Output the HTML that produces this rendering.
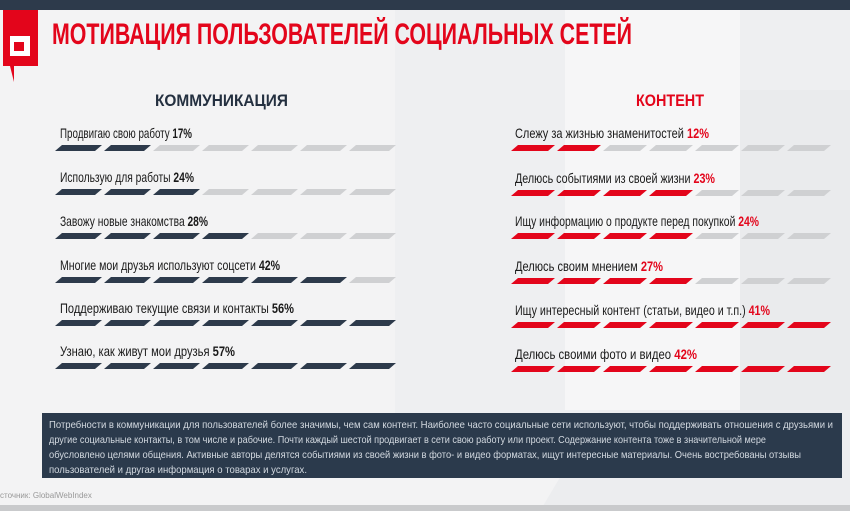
<!DOCTYPE html>
<html><head><meta charset="utf-8"><style>
body{margin:0;width:850px;height:511px;overflow:hidden;background:#f3f3f4;}
svg{display:block}
text{font-family:"Liberation Sans Narrow","Liberation Sans",sans-serif;}
</style></head><body>
<svg width="850" height="511" viewBox="0 0 850 511" xmlns="http://www.w3.org/2000/svg">
<rect width="850" height="511" fill="#f3f3f4"/>
<rect x="395" y="10" width="460" height="460" fill="#eeeff1"/>
<rect x="565" y="10" width="175" height="400" fill="#f6f6f7"/>
<rect x="740" y="90" width="110" height="320" fill="#eaebed"/>
<polygon points="600,410 850,410 850,511 540,511" fill="#ecedef"/>
<rect x="0" y="0" width="850" height="10" fill="#2d3a4b"/>
<polygon points="3,10 38,10 38,66 14,66 14,82 10,66 3,66" fill="#e3051b"/>
<rect x="10" y="36" width="20" height="20" fill="#fff"/>
<rect x="14" y="42" width="10" height="9" fill="#e3051b"/>
<text x="52" y="44" font-size="30" fill="#e3051b" font-weight="bold" textLength="580" lengthAdjust="spacingAndGlyphs">МОТИВАЦИЯ ПОЛЬЗОВАТЕЛЕЙ СОЦИАЛЬНЫХ СЕТЕЙ</text>
<text x="155" y="106" font-size="17" fill="#243040" font-weight="bold" textLength="133" lengthAdjust="spacingAndGlyphs" style="font-family:'Liberation Sans',sans-serif">КОММУНИКАЦИЯ</text>
<text x="636" y="106" font-size="17" fill="#e3051b" font-weight="bold" textLength="68" lengthAdjust="spacingAndGlyphs" style="font-family:'Liberation Sans',sans-serif">КОНТЕНТ</text>
<g id="L" font-size="14" fill="#1a1a1a"></g>
<g id="R" font-size="14" fill="#1a1a1a"></g>
<rect x="42" y="413" width="800" height="65" fill="#2b3a4c"/>
<g font-size="10.5" fill="#d3d9e0">
<text x="49" y="428" textLength="784" lengthAdjust="spacingAndGlyphs">Потребности в коммуникации для пользователей более значимы, чем сам контент. Наиболее часто социальные сети используют, чтобы поддерживать отношения с друзьями и</text>
<text x="49" y="443" textLength="717" lengthAdjust="spacingAndGlyphs">другие социальные контакты, в том числе и рабочие.  Почти каждый шестой продвигает в сети свою работу или проект. Содержание контента тоже в значительной мере</text>
<text x="49" y="458" textLength="752" lengthAdjust="spacingAndGlyphs">обусловлено целями общения. Активные авторы делятся событиями из своей жизни в фото- и видео форматах, ищут интересные материалы. Очень востребованы отзывы</text>
<text x="49" y="473" textLength="258" lengthAdjust="spacingAndGlyphs">пользователей и другая информация о товарах и услугах.</text>
</g>
<text x="0" y="498" font-size="8" fill="#999">сточник: GlobalWebIndex</text>
<rect x="0" y="505" width="850" height="6" fill="#c9cacc"/>
</svg>
<script>
var ns="http://www.w3.org/2000/svg",svg=document.querySelector('svg');
function add(tag,attrs,txt,parent){var e=document.createElementNS(ns,tag);for(var k in attrs)e.setAttribute(k,attrs[k]);if(txt!=null)e.textContent=txt;(parent||svg).appendChild(e);return e;}
var L=[["Продвигаю свою работу ","17%",2,138,110],["Использую для работы ","24%",3,182,112],["Завожу новые знакомства ","28%",4,226,126],["Многие мои друзья используют соцсети ","42%",6,270,198],["Поддерживаю текущие связи и контакты ","56%",7,313,212],["Узнаю, как живут мои друзья ","57%",7,356,153]];
var R=[["Слежу за жизнью знаменитостей ","12%",2,138,172],["Делюсь событиями из своей жизни  ","23%",4,183,178],["Ищу информацию о продукте перед покупкой ","24%",4,226,222],["Делюсь своим мнением ","27%",4,271,126],["Ищу интересный контент (статьи, видео и т.п.) ","41%",7,315,233],["Делюсь своими фото и видео ","42%",7,359,160]];
var g1=document.getElementById('L'),g2=document.getElementById('R');
L.forEach(function(d){var t=add('text',{x:60,y:d[3],textLength:d[4]+22,lengthAdjust:"spacingAndGlyphs"},null,g1);t.appendChild(document.createTextNode(d[0]));add('tspan',{"font-weight":"bold"},d[1],t);
 for(var i=0;i<7;i++){var x=55+i*49,y=d[3]+7;add('polygon',{points:(x)+","+(y+6)+" "+(x+40)+","+(y+6)+" "+(x+47)+","+y+" "+(x+7)+","+y,fill:i<d[2]?"#2d3a4b":"#cfd0d2"});}});
R.forEach(function(d){var t=add('text',{x:515,y:d[3],textLength:d[4]+22,lengthAdjust:"spacingAndGlyphs"},null,g2);t.appendChild(document.createTextNode(d[0]));add('tspan',{fill:"#e3051b","font-weight":"bold"},d[1],t);
 for(var i=0;i<7;i++){var x=511+i*46,y=d[3]+7;add('polygon',{points:(x)+","+(y+6)+" "+(x+37)+","+(y+6)+" "+(x+44)+","+y+" "+(x+7)+","+y,fill:i<d[2]?"#e3051b":"#cfd0d2"});}});
</script>
</body></html>
